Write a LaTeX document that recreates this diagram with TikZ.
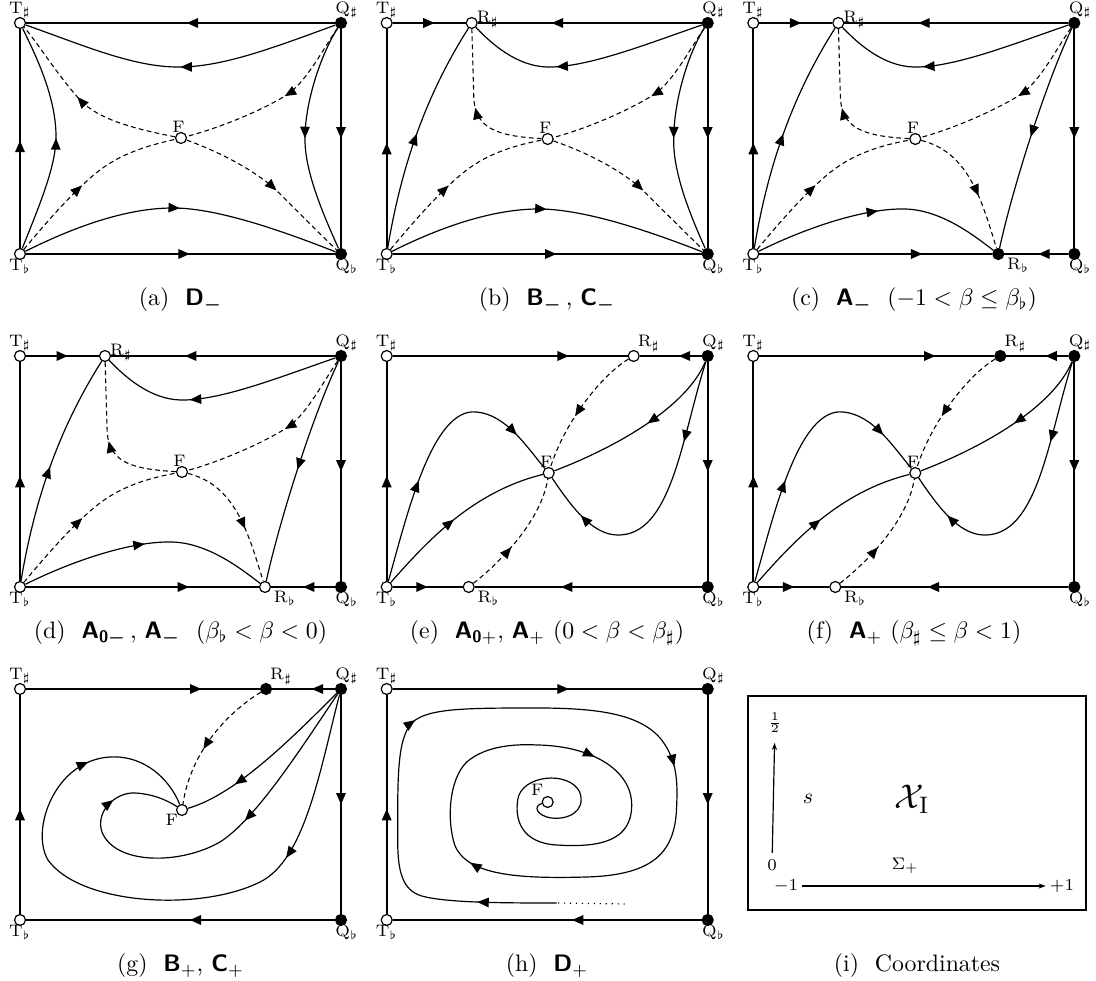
\documentclass[tikz,border=0pt]{standalone}
\usepackage{amsmath,amssymb}
\usepackage{tikz}
\usetikzlibrary{arrows.meta,decorations.markings}

\begin{document}
\begin{tikzpicture}[
    x=0.42pt, y=0.42pt,
    eqopen/.style={circle, draw, fill=white, line width=0.5pt, inner sep=0pt, minimum size=4.6pt},
    eqfull/.style={circle, draw, fill=black, line width=0.5pt, inner sep=0pt, minimum size=4.6pt},
    lbl/.style={font=\scriptsize, inner sep=0.6pt, label distance=-1.2pt},
    rim/.style={line width=0.7pt},
    orbit/.style={line width=0.5pt},
    sepline/.style={line width=0.45pt, dash pattern=on 2pt off 1.4pt},
    flowat/.style={postaction={decorate, decoration={markings, mark=at position #1 with {\arrow{Triangle[length=4.8pt,width=4pt]}}}}},
    axisarrow/.style={-{Stealth[length=3pt,width=2.2pt]}, line width=0.5pt},
    capt/.style={font=\normalsize}
  ]
  \useasboundingbox (0,0) rectangle (1096,981);

  % (a) D-
  \begin{scope}[shift={(20,727)}]
    \node[eqopen, label={[lbl]above:$\mathrm{T}_\sharp$}] (aTs) at (0,231) {};
    \node[eqfull, label={[lbl,xshift=2.5pt]above:$\mathrm{Q}_\sharp$}] (aQs) at (321,231) {};
    \node[eqopen, label={[lbl]below:$\mathrm{T}_\flat$}] (aTb) at (0,0) {};
    \node[eqfull, label={[lbl,xshift=2.5pt]below:$\mathrm{Q}_\flat$}] (aQb) at (321,0) {};
    \node[eqopen, label={[lbl,xshift=-1pt]above:F}] (aF) at (161,116) {};
    \draw[rim, flowat=0.48] (aQs) -- (aTs);
    \draw[rim, flowat=0.49] (aTb) -- (aTs);
    \draw[rim, flowat=0.53] (aTb) -- (aQb);
    \draw[rim, flowat=0.5] (aQs) -- (aQb);
    \draw[orbit, flowat=0.5] (aQs) .. controls (250,205) and (200,186) .. (155,187) .. controls (110,188) and (60,210) .. (aTs);
    \draw[orbit, flowat=0.5] (aTb) .. controls (60,30) and (110,46) .. (153,46) .. controls (200,46) and (270,20) .. (aQb);
    \draw[orbit, flowat=0.5] (aTb) .. controls (20,50) and (37,90) .. (36,120) .. controls (35,160) and (15,200) .. (aTs);
    \draw[orbit, flowat=0.5] (aQs) .. controls (301,200) and (284,150) .. (285,112) .. controls (286,80) and (303,40) .. (aQb);
    \draw[sepline, flowat=0.55] (aF) .. controls (110,126) and (80,135) .. (62,152) .. controls (40,175) and (15,215) .. (aTs);
    \draw[sepline, flowat=0.45] (aTb) .. controls (25,30) and (55,65) .. (80,84) .. controls (105,103) and (135,110) .. (aF);
    \draw[sepline, flowat=0.45] (aQs) .. controls (300,200) and (285,170) .. (265,158) .. controls (235,140) and (195,125) .. (aF);
    \draw[sepline, flowat=0.55] (aF) .. controls (205,100) and (240,80) .. (258,62) .. controls (280,40) and (305,15) .. (aQb);
  \end{scope}

  % (b) B-, C-
  \begin{scope}[shift={(386.7,727)}]
    \node[eqopen, label={[lbl]above:$\mathrm{T}_\sharp$}] (bTs) at (0,231) {};
    \node[eqopen, label={[lbl,yshift=1.5pt]right:$\mathrm{R}_\sharp$}] (bRs) at (85,231) {};
    \node[eqfull, label={[lbl,xshift=2.5pt]above:$\mathrm{Q}_\sharp$}] (bQs) at (321,231) {};
    \node[eqopen, label={[lbl]below:$\mathrm{T}_\flat$}] (bTb) at (0,0) {};
    \node[eqfull, label={[lbl,xshift=2.5pt]below:$\mathrm{Q}_\flat$}] (bQb) at (321,0) {};
    \node[eqopen, label={[lbl,xshift=-1pt]above:F}] (bF) at (161,115) {};
    \draw[rim, flowat=0.575] (bTs) -- (bRs);
    \draw[rim, flowat=0.67] (bQs) -- (bRs);
    \draw[rim, flowat=0.48] (bTb) -- (bTs);
    \draw[rim, flowat=0.53] (bTb) -- (bQb);
    \draw[rim, flowat=0.5] (bQs) -- (bQb);
    \draw[orbit, flowat=0.62] (bQs) .. controls (260,210) and (200,186) .. (160,187) .. controls (130,188) and (105,210) .. (bRs);
    \draw[orbit, flowat=0.5] (bTb) .. controls (15,90) and (40,160) .. (bRs);
    \draw[orbit, flowat=0.5] (bQs) .. controls (301,200) and (286,150) .. (287,110) .. controls (288,78) and (303,40) .. (bQb);
    \draw[orbit, flowat=0.5] (bTb) .. controls (60,30) and (110,45) .. (152,45) .. controls (200,45) and (270,20) .. (bQb);
    \draw[sepline, flowat=0.5] (bF) .. controls (110,118) and (87,125) .. (87,160) -- (bRs);
    \draw[sepline, flowat=0.45] (bTb) .. controls (25,30) and (55,65) .. (80,84) .. controls (105,103) and (135,110) .. (bF);
    \draw[sepline, flowat=0.45] (bQs) .. controls (300,200) and (285,170) .. (265,158) .. controls (235,140) and (195,124) .. (bF);
    \draw[sepline, flowat=0.55] (bF) .. controls (205,100) and (240,80) .. (258,62) .. controls (280,40) and (305,15) .. (bQb);
  \end{scope}

  % (c) A- (-1 < beta <= beta_flat)
  \begin{scope}[shift={(753.3,727)}]
    \node[eqopen, label={[lbl]above:$\mathrm{T}_\sharp$}] (cTs) at (0,231) {};
    \node[eqopen, label={[lbl,yshift=1.5pt]right:$\mathrm{R}_\sharp$}] (cRs) at (85,231) {};
    \node[eqfull, label={[lbl,xshift=2.5pt]above:$\mathrm{Q}_\sharp$}] (cQs) at (321,231) {};
    \node[eqopen, label={[lbl]below:$\mathrm{T}_\flat$}] (cTb) at (0,0) {};
    \node[eqfull, label={[lbl,xshift=2pt]below right:$\mathrm{R}_\flat$}] (cRb) at (245,0) {};
    \node[eqfull, label={[lbl,xshift=2.5pt]below:$\mathrm{Q}_\flat$}] (cQb) at (321,0) {};
    \node[eqopen, label={[lbl,xshift=-1pt]above:F}] (cF) at (162,115) {};
    \draw[rim, flowat=0.575] (cTs) -- (cRs);
    \draw[rim, flowat=0.67] (cQs) -- (cRs);
    \draw[rim, flowat=0.48] (cTb) -- (cTs);
    \draw[rim, flowat=0.5] (cQs) -- (cQb);
    \draw[rim, flowat=0.7] (cTb) -- (cRb);
    \draw[rim, flowat=0.47] (cQb) -- (cRb);
    \draw[orbit, flowat=0.62] (cQs) .. controls (260,210) and (200,186) .. (160,187) .. controls (130,188) and (105,210) .. (cRs);
    \draw[orbit, flowat=0.5] (cTb) .. controls (15,90) and (40,160) .. (cRs);
    \draw[orbit, flowat=0.5] (cQs) .. controls (290,165) and (258,60) .. (cRb);
    \draw[orbit, flowat=0.5] (cTb) .. controls (50,25) and (110,46) .. (152,45) .. controls (190,44) and (225,15) .. (cRb);
    \draw[sepline, flowat=0.5] (cF) .. controls (110,118) and (87,125) .. (87,160) -- (cRs);
    \draw[sepline, flowat=0.45] (cTb) .. controls (25,30) and (55,65) .. (80,84) .. controls (105,103) and (135,110) .. (cF);
    \draw[sepline, flowat=0.45] (cQs) .. controls (300,200) and (285,170) .. (265,158) .. controls (235,140) and (195,124) .. (cF);
    \draw[sepline, flowat=0.6] (cF) .. controls (215,102) and (228,55) .. (cRb);
  \end{scope}

  % (d) A0-, A- (beta_flat < beta < 0)
  \begin{scope}[shift={(20,394)}]
    \node[eqopen, label={[lbl]above:$\mathrm{T}_\sharp$}] (dTs) at (0,231) {};
    \node[eqopen, label={[lbl,yshift=1.5pt]right:$\mathrm{R}_\sharp$}] (dRs) at (85,231) {};
    \node[eqfull, label={[lbl,xshift=2.5pt]above:$\mathrm{Q}_\sharp$}] (dQs) at (321,231) {};
    \node[eqopen, label={[lbl]below:$\mathrm{T}_\flat$}] (dTb) at (0,0) {};
    \node[eqopen, label={[lbl,xshift=2pt]below right:$\mathrm{R}_\flat$}] (dRb) at (245,0) {};
    \node[eqfull, label={[lbl,xshift=2.5pt]below:$\mathrm{Q}_\flat$}] (dQb) at (321,0) {};
    \node[eqopen, label={[lbl,xshift=-1pt]above:F}] (dF) at (162,115) {};
    \draw[rim, flowat=0.575] (dTs) -- (dRs);
    \draw[rim, flowat=0.67] (dQs) -- (dRs);
    \draw[rim, flowat=0.48] (dTb) -- (dTs);
    \draw[rim, flowat=0.5] (dQs) -- (dQb);
    \draw[rim, flowat=0.7] (dTb) -- (dRb);
    \draw[rim, flowat=0.5] (dQb) -- (dRb);
    \draw[orbit, flowat=0.62] (dQs) .. controls (260,210) and (200,186) .. (160,187) .. controls (130,188) and (105,210) .. (dRs);
    \draw[orbit, flowat=0.5] (dTb) .. controls (15,90) and (40,160) .. (dRs);
    \draw[orbit, flowat=0.5] (dQs) .. controls (290,165) and (258,60) .. (dRb);
    \draw[orbit, flowat=0.5] (dTb) .. controls (50,25) and (110,46) .. (152,45) .. controls (190,44) and (225,15) .. (dRb);
    \draw[sepline, flowat=0.5] (dF) .. controls (110,118) and (87,125) .. (87,160) -- (dRs);
    \draw[sepline, flowat=0.45] (dTb) .. controls (25,30) and (55,65) .. (80,84) .. controls (105,103) and (135,110) .. (dF);
    \draw[sepline, flowat=0.45] (dQs) .. controls (300,200) and (285,170) .. (265,158) .. controls (235,140) and (195,124) .. (dF);
    \draw[sepline, flowat=0.6] (dF) .. controls (215,102) and (228,55) .. (dRb);
  \end{scope}

  % (e) A0+, A+ (0 < beta < beta_sharp)
  \begin{scope}[shift={(386.7,394)}]
    \node[eqopen, label={[lbl]above:$\mathrm{T}_\sharp$}] (eTs) at (0,231) {};
    \node[eqopen, label={[lbl]above right:$\mathrm{R}_\sharp$}] (eRs) at (247,231) {};
    \node[eqfull, label={[lbl,xshift=2.5pt]above:$\mathrm{Q}_\sharp$}] (eQs) at (321,231) {};
    \node[eqopen, label={[lbl]below:$\mathrm{T}_\flat$}] (eTb) at (0,0) {};
    \node[eqopen, label={[lbl,xshift=2pt]below right:$\mathrm{R}_\flat$}] (eRb) at (82,0) {};
    \node[eqfull, label={[lbl,xshift=2.5pt]below:$\mathrm{Q}_\flat$}] (eQb) at (321,0) {};
    \node[eqopen, label={[lbl,xshift=-1pt]above:F}] (eF) at (162,114) {};
    \draw[rim, flowat=0.75] (eTs) -- (eRs);
    \draw[rim, flowat=0.37] (eQs) -- (eRs);
    \draw[rim, flowat=0.48] (eTb) -- (eTs);
    \draw[rim, flowat=0.5] (eQs) -- (eQb);
    \draw[rim, flowat=0.5] (eTb) -- (eRb);
    \draw[rim, flowat=0.62] (eQb) -- (eRb);
    \draw[sepline, flowat=0.58] (eRs) .. controls (215,212) and (178,165) .. (eF);
    \draw[sepline, flowat=0.4] (eRb) .. controls (120,30) and (155,70) .. (eF);
    \draw[orbit, flowat=0.36, flowat=0.85] (eTb) .. controls (20,70) and (45,180) .. (90,175) .. controls (120,172) and (140,140) .. (eF);
    \draw[orbit, flowat=0.47] (eTb) .. controls (40,45) and (85,95) .. (eF);
    \draw[orbit, flowat=0.45] (eQs) .. controls (300,180) and (230,140) .. (eF);
    \draw[orbit, flowat=0.28, flowat=0.84] (eQs) .. controls (295,150) and (285,50) .. (230,52) .. controls (205,53) and (185,80) .. (eF);
  \end{scope}

  % (f) A+ (beta_sharp <= beta < 1)
  \begin{scope}[shift={(753.3,394)}]
    \node[eqopen, label={[lbl]above:$\mathrm{T}_\sharp$}] (fTs) at (0,231) {};
    \node[eqfull, label={[lbl]above right:$\mathrm{R}_\sharp$}] (fRs) at (247,231) {};
    \node[eqfull, label={[lbl,xshift=2.5pt]above:$\mathrm{Q}_\sharp$}] (fQs) at (321,231) {};
    \node[eqopen, label={[lbl]below:$\mathrm{T}_\flat$}] (fTb) at (0,0) {};
    \node[eqopen, label={[lbl,xshift=2pt]below right:$\mathrm{R}_\flat$}] (fRb) at (82,0) {};
    \node[eqfull, label={[lbl,xshift=2.5pt]below:$\mathrm{Q}_\flat$}] (fQb) at (321,0) {};
    \node[eqopen, label={[lbl,xshift=-1pt]above:F}] (fF) at (162,114) {};
    \draw[rim, flowat=0.75] (fTs) -- (fRs);
    \draw[rim, flowat=0.37] (fQs) -- (fRs);
    \draw[rim, flowat=0.48] (fTb) -- (fTs);
    \draw[rim, flowat=0.5] (fQs) -- (fQb);
    \draw[rim, flowat=0.5] (fTb) -- (fRb);
    \draw[rim, flowat=0.62] (fQb) -- (fRb);
    \draw[sepline, flowat=0.58] (fRs) .. controls (215,212) and (178,165) .. (fF);
    \draw[sepline, flowat=0.4] (fRb) .. controls (120,30) and (155,70) .. (fF);
    \draw[orbit, flowat=0.36, flowat=0.85] (fTb) .. controls (20,70) and (45,180) .. (90,175) .. controls (120,172) and (140,140) .. (fF);
    \draw[orbit, flowat=0.47] (fTb) .. controls (40,45) and (85,95) .. (fF);
    \draw[orbit, flowat=0.45] (fQs) .. controls (300,180) and (230,140) .. (fF);
    \draw[orbit, flowat=0.28, flowat=0.84] (fQs) .. controls (295,150) and (285,50) .. (230,52) .. controls (205,53) and (185,80) .. (fF);
  \end{scope}

  % (g) B+, C+
  \begin{scope}[shift={(20,61)}]
    \node[eqopen, label={[lbl]above:$\mathrm{T}_\sharp$}] (gTs) at (0,231) {};
    \node[eqfull, label={[lbl]above right:$\mathrm{R}_\sharp$}] (gRs) at (246,231) {};
    \node[eqfull, label={[lbl,xshift=2.5pt]above:$\mathrm{Q}_\sharp$}] (gQs) at (321,231) {};
    \node[eqopen, label={[lbl]below:$\mathrm{T}_\flat$}] (gTb) at (0,0) {};
    \node[eqfull, label={[lbl,xshift=2.5pt]below:$\mathrm{Q}_\flat$}] (gQb) at (321,0) {};
    \node[eqopen, label={[lbl]below left:F}] (gF) at (162,110) {};
    \draw[rim, flowat=0.75] (gTs) -- (gRs);
    \draw[rim, flowat=0.37] (gQs) -- (gRs);
    \draw[rim, flowat=0.48] (gTb) -- (gTs);
    \draw[rim, flowat=0.5] (gQs) -- (gQb);
    \draw[rim, flowat=0.47] (gQb) -- (gTb);
    \draw[sepline, flowat=0.58] (gRs) .. controls (215,212) and (172,175) .. (gF);
    \draw[orbit, flowat=0.72] (gQs) .. controls (270,180) and (215,125) .. (gF);
    \draw[orbit, flowat=0.37, flowat=0.84] (gQs) .. controls (280,170) and (235,100) .. (200,78) .. controls (160,55) and (95,55) .. (82,88) .. controls (75,108) and (95,128) .. (115,127) .. controls (135,126) and (150,118) .. (gF);
    \draw[orbit, flowat=0.26, flowat=0.83] (gQs) .. controls (300,150) and (285,60) .. (240,38) .. controls (180,8) and (60,15) .. (28,60) .. controls (10,90) and (35,160) .. (90,163) .. controls (125,165) and (150,140) .. (gF);
  \end{scope}

  % (h) D+
  \begin{scope}[shift={(386.7,61)}]
    \node[eqopen, label={[lbl]above:$\mathrm{T}_\sharp$}] (hTs) at (0,231) {};
    \node[eqfull, label={[lbl,xshift=2.5pt]above:$\mathrm{Q}_\sharp$}] (hQs) at (321,231) {};
    \node[eqopen, label={[lbl]below:$\mathrm{T}_\flat$}] (hTb) at (0,0) {};
    \node[eqfull, label={[lbl,xshift=2.5pt]below:$\mathrm{Q}_\flat$}] (hQb) at (321,0) {};
    \node[eqopen, label={[lbl,yshift=1pt]above left:F}] (hF) at (161,118) {};
    \coordinate (hEnd) at (238,16);
    \coordinate (hCut) at (170,17);
    \draw[rim, flowat=0.57] (hTs) -- (hQs);
    \draw[rim, flowat=0.5] (hQs) -- (hQb);
    \draw[rim, flowat=0.42] (hQb) -- (hTb);
    \draw[rim, flowat=0.48] (hTb) -- (hTs);
    \draw[orbit, dotted] (hEnd) -- (hCut);
    \draw[orbit, flowat=0.052, flowat=0.213, flowat=0.4, flowat=0.59, flowat=0.75]
      (hCut) .. controls (120,17) and (60,17) .. (35,24)
      .. controls (15,30) and (11,50) .. (11,80)
      .. controls (11,140) and (10,180) .. (25,197)
      .. controls (40,212) and (80,212) .. (151,212)
      .. controls (215,212) and (255,205) .. (275,180)
      .. controls (290,160) and (291,140) .. (290,115)
      .. controls (289,70) and (270,45) .. (200,43)
      .. controls (130,41) and (80,45) .. (68,75)
      .. controls (60,100) and (62,140) .. (80,158)
      .. controls (100,175) and (130,176) .. (151,175)
      .. controls (205,174) and (245,150) .. (245,115)
      .. controls (245,80) and (215,72) .. (170,75)
      .. controls (135,77) and (128,100) .. (131,120)
      .. controls (134,145) and (182,150) .. (193,128)
      .. controls (200,108) and (180,100) .. (165,102)
      .. controls (150,104) and (146,114) .. (hF);
  \end{scope}

  % (i) Coordinates
  \draw[line width=0.6pt] (748,71) rectangle (1086,285);
  \node[lbl] (izero) at (772,116) {$0$};
  \node[lbl] (ihalf) at (775,258) {$\frac{1}{2}$};
  \node[lbl] (imone) at (786,95) {$-1$};
  \node[lbl] (ipone) at (1062,95) {$+1$};
  \node[lbl] (isig) at (905,115) {$\Sigma_+$};
  \node[font=\small] (is) at (808,182) {$s$};
  \node[font=\Large] (iX) at (912,182) {$\mathcal{X}_{\mathrm{I}}$};
  \draw[axisarrow, shorten <=2pt, shorten >=3.4pt] (izero) -- (ihalf);
  \draw[axisarrow, shorten <=1pt, shorten >=1pt] (imone) -- (ipone);

  % captions
  \node[capt] (capa) at (180.5,681) {(a)\ \ \textsf{\bfseries D}$_{\boldsymbol{-}}$};
  \node[capt] (capb) at (547,681) {(b)\ \ \textsf{\bfseries B}$_{\boldsymbol{-}}$\,, \textsf{\bfseries C}$_{\boldsymbol{-}}$};
  \node[capt] (capc) at (914,681) {(c)\ \ \textsf{\bfseries A}$_{\boldsymbol{-}}$\ \ $(-1<\beta\leq\beta_\flat)$};
  \node[capt] (capd) at (180.5,348) {(d)\ \ \textsf{\bfseries A}$_{\textsf{\bfseries 0}\boldsymbol{-}}$\,, \textsf{\bfseries A}$_{\boldsymbol{-}}$\ \ $(\beta_\flat<\beta<0)$};
  \node[capt] (cape) at (547,348) {(e)\ \ \textsf{\bfseries A}$_{\textsf{\bfseries 0}+}$, \textsf{\bfseries A}$_{+}$\ $(0<\beta<\beta_\sharp)$};
  \node[capt] (capf) at (914,348) {(f)\ \ \textsf{\bfseries A}$_{+}$\ $(\beta_\sharp\leq\beta<1)$};
  \node[capt] (capg) at (180.5,15) {(g)\ \ \textsf{\bfseries B}$_{+}$, \textsf{\bfseries C}$_{+}$};
  \node[capt] (caph) at (547,15) {(h)\ \ \textsf{\bfseries D}$_{+}$};
  \node[capt] (capi) at (917,15) {(i)\ \ Coordinates};
\end{tikzpicture}
\end{document}
